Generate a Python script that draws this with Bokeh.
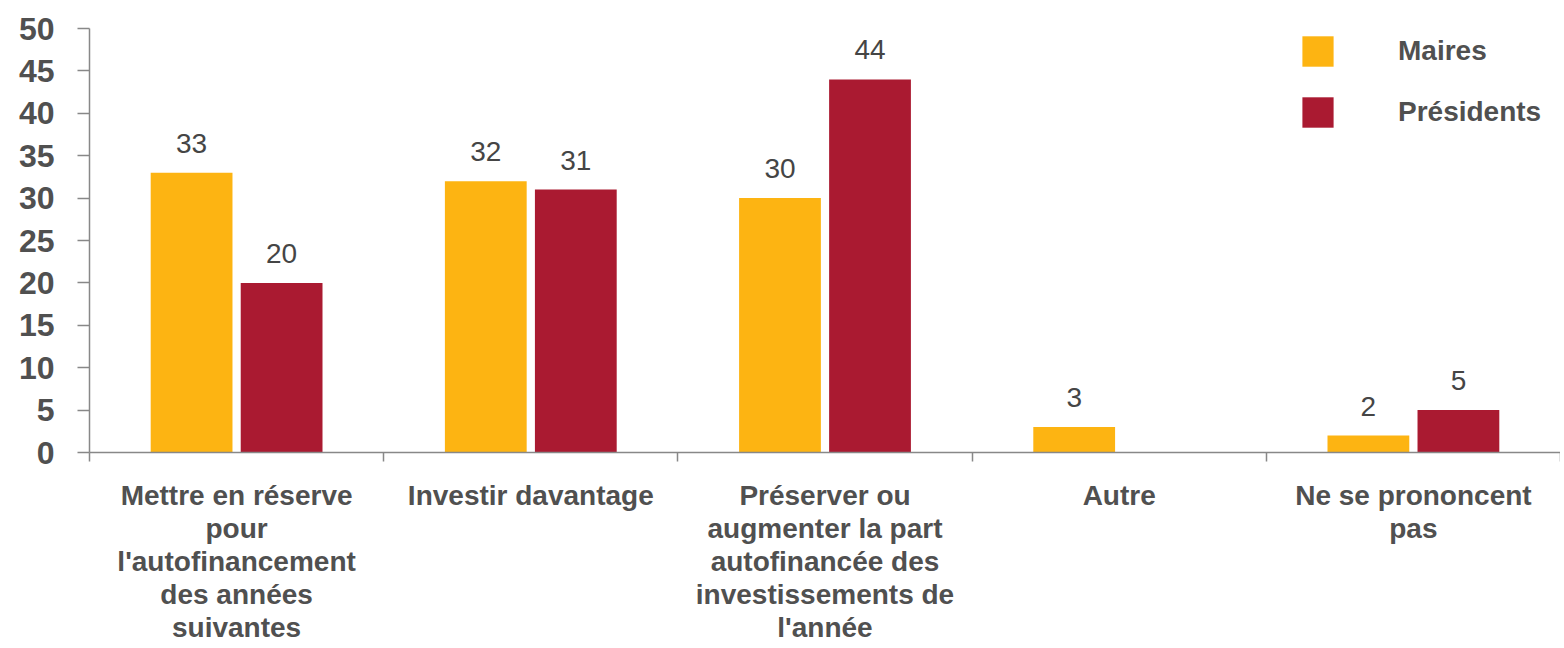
from bokeh.plotting import figure
from bokeh.models import (ColumnDataSource, Range1d, FixedTicker, Legend, LegendItem,
                          LabelSet)
from bokeh.core.properties import value
from bokeh.transform import dodge
from bokeh.embed import file_html
from bokeh.resources import INLINE

categories = [
    "Mettre en réserve\npour\nl'autofinancement\ndes années\nsuivantes",
    "Investir davantage",
    "Préserver ou\naugmenter la part\nautofinancée des\ninvestissements de\nl'année",
    "Autre",
    "Ne se prononcent\npas",
]
maires = [33, 32, 30, 3, 2]
presidents = [20, 31, 44, None, 5]
y_ticks = [0, 5, 10, 15, 20, 25, 30, 35, 40, 45, 50]

ORANGE = "#FDB412"
RED = "#AA1A31"
TEXT = "#505050"
AXIS = "#888888"
FONT = "Liberation Sans"

xs = [i + 0.5 for i in range(len(categories))]
bounds = list(range(len(categories) + 1))

src_m = ColumnDataSource(dict(x=xs, v=maires,
                              lab=[str(v) for v in maires]))
src_p = ColumnDataSource(dict(x=xs, v=[float("nan") if v is None else v for v in presidents],
                              lab=["" if v is None else str(v) for v in presidents]))

p = figure(width=1560, height=646, output_backend="svg", toolbar_location=None,
           x_range=Range1d(0, len(categories)), y_range=Range1d(0, 50),
           min_border_left=89, min_border_top=28, min_border_right=0,
           min_border_bottom=192)
p.outline_line_color = None
p.xgrid.grid_line_color = None
p.ygrid.grid_line_color = None

OFF = 0.153
W = 0.278
rm = p.vbar(x=dodge("x", -OFF, range=p.x_range), top="v", width=W, source=src_m,
            fill_color=ORANGE, line_color=None)
rp = p.vbar(x=dodge("x", OFF, range=p.x_range), top="v", width=W, source=src_p,
            fill_color=RED, line_color=None)

for src, off in ((src_m, -OFF), (src_p, OFF)):
    ls = LabelSet(x=dodge("x", off, range=p.x_range), y="v", text="lab", source=src,
                  text_align="center", text_baseline="bottom", y_offset=20,
                  text_font=value(FONT), text_font_size=value("28px"),
                  text_color="#454545")
    p.add_layout(ls)

# y axis
ya = p.yaxis[0]
ya.ticker = FixedTicker(ticks=y_ticks)
ya.axis_line_color = AXIS
ya.axis_line_width = 1.5
ya.major_tick_line_color = AXIS
ya.major_tick_line_width = 1.5
ya.major_tick_out = 12
ya.major_tick_in = 0
ya.minor_tick_line_color = None
ya.major_label_standoff = 23
ya.major_label_text_font = FONT
ya.major_label_text_font_style = "bold"
ya.major_label_text_font_size = "32px"
ya.major_label_text_color = TEXT

# x axis
xa = p.xaxis[0]
xa.ticker = FixedTicker(ticks=xs, minor_ticks=bounds)
xa.major_label_overrides = {x: c for x, c in zip(xs, categories)}
xa.axis_line_color = AXIS
xa.axis_line_width = 1.5
xa.major_tick_line_color = None
xa.major_tick_out = 0
xa.major_tick_in = 0
xa.minor_tick_line_color = AXIS
xa.minor_tick_line_width = 1.5
xa.minor_tick_out = 9
xa.minor_tick_in = 0
xa.major_label_standoff = 18
xa.major_label_text_font = FONT
xa.major_label_text_font_style = "bold"
xa.major_label_text_font_size = "28px"
xa.major_label_text_color = TEXT
xa.major_label_text_line_height = 1.07

legend = Legend(items=[LegendItem(label="Maires", renderers=[rm]),
                       LegendItem(label="Présidents", renderers=[rp])],
                location=(1209, 321), orientation="vertical",
                glyph_width=39, glyph_height=38, label_standoff=61, spacing=23,
                padding=0, margin=0, border_line_color=None,
                background_fill_alpha=0,
                label_text_font=FONT, label_text_font_style="bold",
                label_text_font_size="28px", label_text_color=TEXT,
                label_height=38)
p.add_layout(legend)

open("out.html", "w").write(file_html(p, INLINE))
